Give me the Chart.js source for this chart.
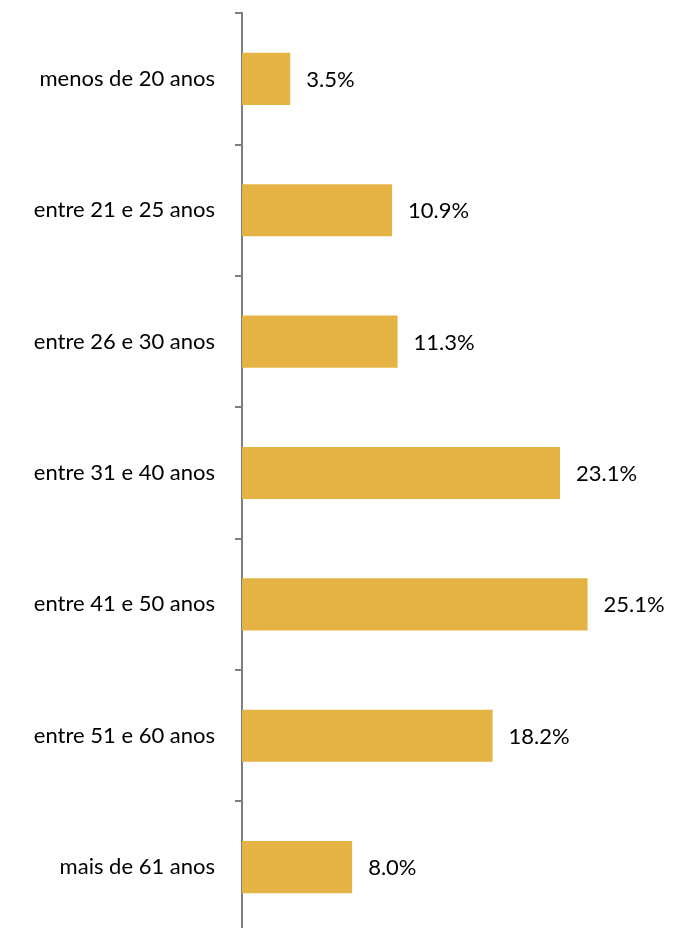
<!DOCTYPE html>
<html>
<head>
<meta charset="utf-8">
<script src="https://cdn.jsdelivr.net/npm/chart.js@4"></script>
<style>
  html, body { margin: 0; padding: 0; background: #fff; overflow: hidden; }
  #wrap { width: 675px; height: 986px; position: relative; margin-top: -20px; }
</style>
</head>
<body>
<div id="wrap"><canvas id="ageChart"></canvas></div>
<script>
// --- dữ liệu ---
const ageGroups = [
  "menos de 20 anos",
  "entre 21 e 25 anos",
  "entre 26 e 30 anos",
  "entre 31 e 40 anos",
  "entre 41 e 50 anos",
  "entre 51 e 60 anos",
  "mais de 61 anos"
];
const sharePct = [3.5, 10.9, 11.3, 23.1, 25.1, 18.2, 8.0];

const barColor = "#E5B244";
const axisColor = "#7F7F7F";
const fontFamily = "Lato, 'Open Sans', sans-serif";

// nhãn giá trị ở cuối thanh
const valueLabels = {
  id: "valueLabels",
  afterDatasetsDraw(chart) {
    const { ctx } = chart;
    const meta = chart.getDatasetMeta(0);
    ctx.save();
    ctx.font = "22px " + fontFamily;
    ctx.fillStyle = "#000";
    ctx.textAlign = "left";
    ctx.textBaseline = "middle";
    meta.data.forEach((bar, i) => {
      ctx.fillText(sharePct[i].toFixed(1) + "%", bar.x + 16, bar.y + 1);
    });
    ctx.restore();
  }
};

const ctx = document.getElementById("ageChart").getContext("2d");
new Chart(ctx, {
  type: "bar",
  data: {
    labels: ageGroups,
    datasets: [{
      data: sharePct,
      backgroundColor: barColor,
      borderWidth: 0,
      barPercentage: 0.396,
      categoryPercentage: 1.0
    }]
  },
  options: {
    indexAxis: "y",
    responsive: true,
    maintainAspectRatio: false,
    animation: false,
    layout: { padding: { top: 12, right: 20, bottom: 0, left: 0 } },
    plugins: {
      legend: { display: false },
      tooltip: { enabled: false }
    },
    scales: {
      x: {
        display: false,
        min: 0,
        max: 30
      },
      y: {
        afterFit(scale) { scale.width = 242; },
        border: { display: true, color: axisColor, width: 2 },
        grid: {
          drawOnChartArea: false,
          drawTicks: true,
          tickLength: 7,
          color: axisColor,
          lineWidth: 2
        },
        ticks: {
          color: "#000",
          padding: 20,
          font: { family: fontFamily, size: 22 }
        }
      }
    }
  },
  plugins: [valueLabels]
});
</script>
</body>
</html>
